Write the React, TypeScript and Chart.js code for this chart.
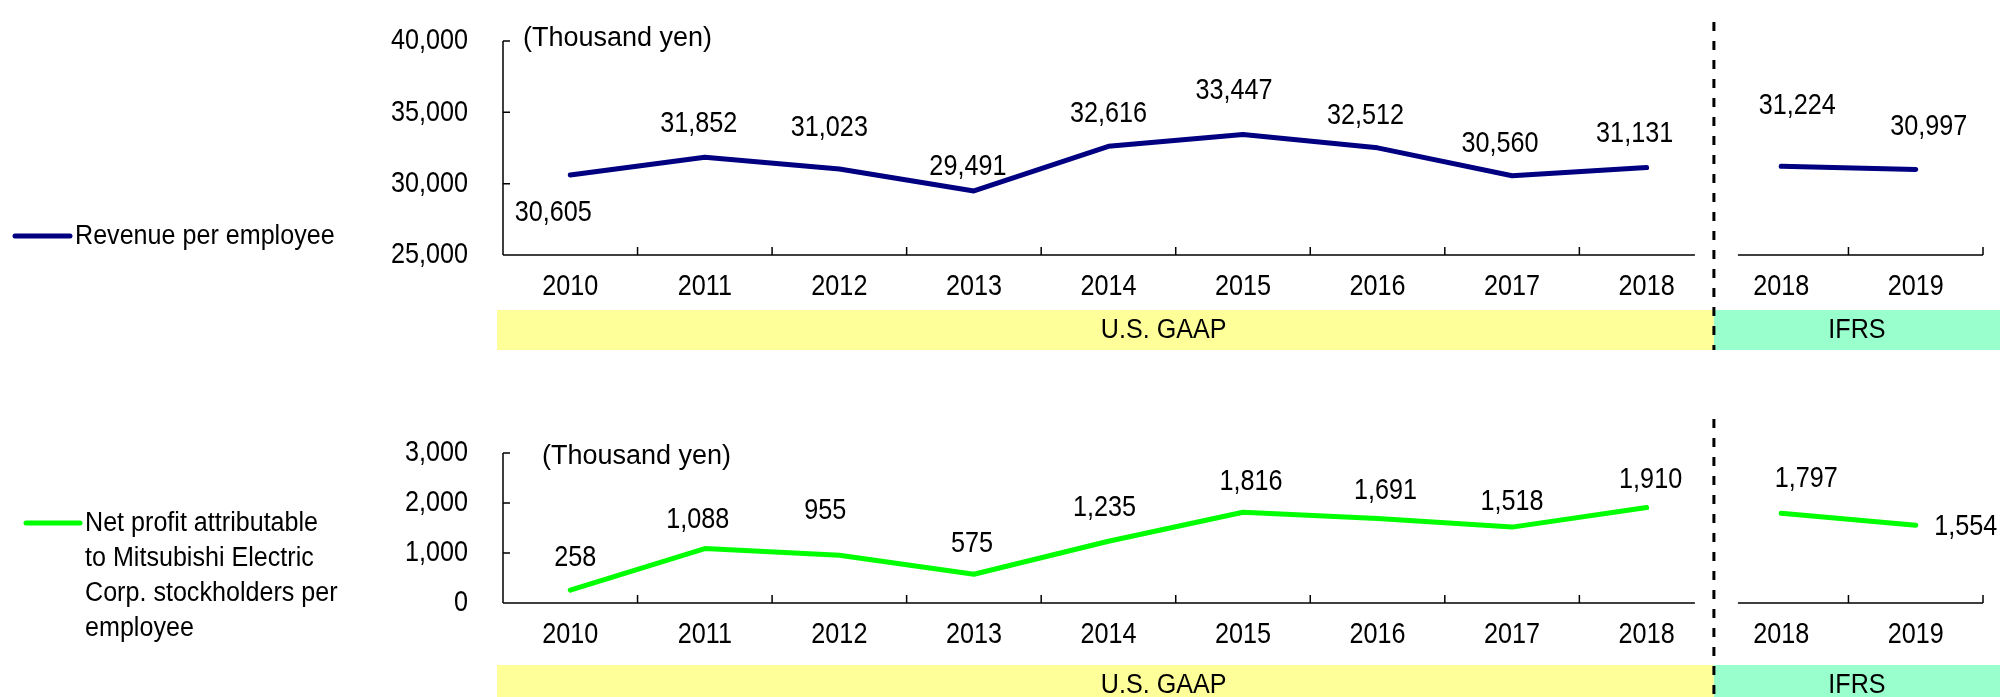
import React, { useEffect, useRef } from 'react';
import { Chart, registerables } from 'chart.js';

Chart.register(...registerables);

// ---------- data ----------
const years = ['2010', '2011', '2012', '2013', '2014', '2015', '2016', '2017', '2018', '2018', '2019'];
const gaapYearCount = 9;
const standards = ['U.S. GAAP', 'IFRS'];
const unitLabel = '(Thousand yen)';

const revenueGaap = [30605, 31852, 31023, 29491, 32616, 33447, 32512, 30560, 31131];
const revenueIfrs = [31224, 30997];
const revenueTicks = [25000, 30000, 35000, 40000];
const revenueLegend = ['Revenue per employee'];

const profitGaap = [258, 1088, 955, 575, 1235, 1816, 1691, 1518, 1910];
const profitIfrs = [1797, 1554];
const profitTicks = [0, 1000, 2000, 3000];
const profitLegend = ['Net profit attributable', 'to Mitsubishi Electric', 'Corp. stockholders per', 'employee'];

// label nudges (style): [dx, dy] of each value label from its point
const revenueLabelNudges = [[-17, 38], [-6, -34], [-10, -41], [-6, -24], [0, -33], [-9, -44], [-12, -32], [-12, -32], [-12, -34], [16, -60], [13, -43]];
const profitLabelNudges = [[5, -32], [-7, -29], [-14, -45], [-2, -31], [-4, -34], [8, -30], [8, -28], [0, -25], [4, -28], [25, -34], [50, 1]];

// ---------- style ----------
const FONT = '"Liberation Sans", Arial, sans-serif';
const NUM_FONT = `30px ${FONT}`;
const NUM_SQUEEZE = 0.84;
const TEXT_FONT = `27px ${FONT}`;
const TEXT_SQUEEZE = 0.93;
const CANVAS_W = 2000;
const AREA_LEFT = 503;
const AREA_RIGHT = 1983;
const GAAP_LABEL_POS = 4.41;

type PanelDef = {
  top: number; height: number; areaTop: number; areaBottom: number;
  gaap: number[]; ifrs: number[]; ticks: number[]; color: string;
  legend: string[]; legendY: number; legendLine: number[]; legendTextX: number;
  nudges: number[][]; unitPos: number[]; bandTop: number; bandBottom: number; bandTextY: number; dashTop: number;
};

const revenuePanel: PanelDef = {
  top: 0, height: 350, areaTop: 41, areaBottom: 255,
  gaap: revenueGaap, ifrs: revenueIfrs, ticks: revenueTicks, color: '#000080',
  legend: revenueLegend, legendY: 237, legendLine: [15, 70], legendTextX: 75,
  nudges: revenueLabelNudges, unitPos: [523, 39], bandTop: 310, bandBottom: 350, bandTextY: 331, dashTop: 22,
};

const profitPanel: PanelDef = {
  top: 350, height: 347, areaTop: 103, areaBottom: 253,
  gaap: profitGaap, ifrs: profitIfrs, ticks: profitTicks, color: '#00FF00',
  legend: profitLegend, legendY: 174, legendLine: [26, 80], legendTextX: 85,
  nudges: profitLabelNudges, unitPos: [542, 107], bandTop: 315, bandBottom: 347, bandTextY: 336, dashTop: 69,
};

const fmt = (v: number) => Number(v).toLocaleString('en-US');

function drawText(ctx: CanvasRenderingContext2D, text: string, x: number, y: number, align: CanvasTextAlign, font: string, squeeze: number) {
  ctx.save();
  ctx.translate(x, y);
  ctx.scale(squeeze, 1);
  ctx.font = font;
  ctx.textAlign = align;
  ctx.textBaseline = 'middle';
  ctx.fillStyle = '#000';
  ctx.fillText(text, 0, 0);
  ctx.restore();
}
const drawNum = (ctx: CanvasRenderingContext2D, t: string, x: number, y: number, align: CanvasTextAlign) =>
  drawText(ctx, t, x, y, align, NUM_FONT, NUM_SQUEEZE);

function makePlugin(p: PanelDef) {
  return {
    id: 'decor',
    afterDraw(chart: any) {
      const { ctx, chartArea: a, scales } = chart;
      const xs = scales.x;
      const ys = scales.y;
      const W = chart.width;
      const H = chart.height;
      const split = xs.getPixelForValue(gaapYearCount - 0.5);
      ctx.save();

      // accounting standard bands
      ctx.fillStyle = '#FFFF99';
      ctx.fillRect(a.left - 6, p.bandTop, split - (a.left - 6), p.bandBottom - p.bandTop);
      ctx.fillStyle = '#99FFCC';
      ctx.fillRect(split, p.bandTop, W - split, p.bandBottom - p.bandTop);
      drawText(ctx, standards[0], xs.getPixelForValue(GAAP_LABEL_POS), p.bandTextY, 'center', TEXT_FONT, TEXT_SQUEEZE);
      drawText(ctx, standards[1], (split + W) / 2, p.bandTextY, 'center', TEXT_FONT, TEXT_SQUEEZE);

      // axes & inward ticks
      ctx.strokeStyle = '#000';
      ctx.lineWidth = 1.5;
      ctx.beginPath();
      ctx.moveTo(a.left, a.top);
      ctx.lineTo(a.left, a.bottom);
      ctx.moveTo(a.left, a.bottom);
      ctx.lineTo(split - 19, a.bottom);
      ctx.moveTo(split + 24, a.bottom);
      ctx.lineTo(a.right, a.bottom);
      ys.ticks.forEach((t: any) => {
        const y = ys.getPixelForValue(t.value);
        ctx.moveTo(a.left, y);
        ctx.lineTo(a.left + 7, y);
      });
      for (let i = 1; i <= years.length; i++) {
        if (i === gaapYearCount) continue;
        const x = xs.getPixelForValue(i - 0.5);
        ctx.moveTo(x, a.bottom);
        ctx.lineTo(x, a.bottom - 8);
      }
      ctx.stroke();

      // tick labels (narrow numerals)
      ys.ticks.forEach((t: any) => drawNum(ctx, fmt(t.value), a.left - 35, ys.getPixelForValue(t.value), 'right'));
      years.forEach((yr, i) => drawNum(ctx, yr, xs.getPixelForValue(i), a.bottom + 32, 'center'));

      // dashed separator
      ctx.strokeStyle = '#000';
      ctx.setLineDash([9, 10]);
      ctx.lineWidth = 3;
      ctx.beginPath();
      ctx.moveTo(split, p.dashTop);
      ctx.lineTo(split, H);
      ctx.stroke();
      ctx.setLineDash([]);

      // unit label
      drawText(ctx, unitLabel, p.unitPos[0], p.unitPos[1], 'left', `27px ${FONT}`, 1);

      // value labels
      chart.data.datasets.forEach((ds: any, di: number) => {
        const meta = chart.getDatasetMeta(di);
        ds.data.forEach((v: number | null, i: number) => {
          if (v === null) return;
          const pt = meta.data[i];
          const n = p.nudges[i] || [0, -30];
          drawNum(ctx, fmt(v), pt.x + n[0], pt.y + n[1], 'center');
        });
      });

      // legend
      ctx.strokeStyle = p.color;
      ctx.lineWidth = 5;
      ctx.lineCap = 'round';
      ctx.beginPath();
      ctx.moveTo(p.legendLine[0], p.legendY - 1);
      ctx.lineTo(p.legendLine[1], p.legendY - 1);
      ctx.stroke();
      p.legend.forEach((line, i) => drawText(ctx, line, p.legendTextX, p.legendY + i * 35, 'left', TEXT_FONT, TEXT_SQUEEZE));

      ctx.restore();
    },
  };
}

function makeConfig(p: PanelDef): any {
  const gaapData = [...p.gaap, ...p.ifrs.map(() => null)];
  const ifrsData = [...p.gaap.map(() => null), ...p.ifrs];
  const lineStyle = {
    borderColor: p.color,
    backgroundColor: p.color,
    borderWidth: 5,
    pointRadius: 0,
    tension: 0,
    borderCapStyle: 'round',
    borderJoinStyle: 'round',
    spanGaps: false,
  };
  return {
    type: 'line',
    data: {
      labels: years,
      datasets: [
        { label: p.legend.join(' '), data: gaapData, ...lineStyle },
        { label: p.legend.join(' ') + ' (IFRS)', data: ifrsData, ...lineStyle },
      ],
    },
    options: {
      animation: false,
      responsive: false,
      maintainAspectRatio: false,
      layout: { autoPadding: false, padding: { left: 0, top: p.areaTop, right: CANVAS_W - AREA_RIGHT, bottom: 0 } },
      plugins: { legend: { display: false }, tooltip: { enabled: false } },
      scales: {
        x: {
          type: 'category',
          offset: true,
          grid: { display: false, drawTicks: false },
          border: { display: false },
          ticks: { display: false, autoSkip: false, maxRotation: 0 },
          afterFit: (s: any) => { s.height = p.height - p.areaBottom; },
        },
        y: {
          type: 'linear',
          min: p.ticks[0],
          max: p.ticks[p.ticks.length - 1],
          afterBuildTicks: (s: any) => { s.ticks = p.ticks.map((v) => ({ value: v })); },
          grid: { display: false, drawTicks: false },
          border: { display: false },
          ticks: { display: false, padding: 0 },
          afterFit: (s: any) => { s.width = AREA_LEFT; },
        },
      },
    },
    plugins: [makePlugin(p)],
  };
}

function Panel({ def }: { def: PanelDef }) {
  const ref = useRef<HTMLCanvasElement>(null);
  useEffect(() => {
    const chart = new Chart(ref.current as HTMLCanvasElement, makeConfig(def));
    return () => chart.destroy();
  }, [def]);
  return (
    <canvas
      ref={ref}
      width={CANVAS_W}
      height={def.height}
      style={{ position: 'absolute', left: 0, top: def.top, width: CANVAS_W, height: def.height }}
    />
  );
}

export default function App() {
  return (
    <div style={{ position: 'absolute', left: 0, top: 0, width: CANVAS_W, height: 697, background: '#fff', overflow: 'hidden' }}>
      <Panel def={revenuePanel} />
      <Panel def={profitPanel} />
    </div>
  );
}
